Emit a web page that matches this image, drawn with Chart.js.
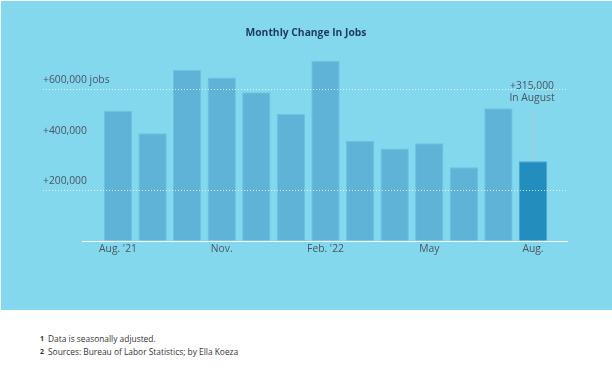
<!DOCTYPE html>
<html>
<head>
<meta charset="utf-8">
<script src="https://cdn.jsdelivr.net/npm/chart.js@4/dist/chart.umd.min.js"></script>
<style>
  html, body { margin: 0; padding: 0; background: #fff; width: 612px; height: 387px; overflow: hidden; }
  #wrap { position: absolute; left: 0; top: 0; width: 612px; height: 310px; }
  .note { position: absolute; left: 40px; font-family: 'Open Sans', sans-serif; font-size: 8.4px; color: #333; white-space: nowrap; }
  .note b { font-size: 7px; position: relative; top: -1px; margin-right: 4px; }
</style>
</head>
<body>
<div id="wrap"><canvas id="jobs-chart" width="612" height="310"></canvas></div>
<div class="note" style="top:333px"><b>1</b>Data is seasonally adjusted.</div>
<div class="note" style="top:346px"><b>2</b>Sources: Bureau of Labor Statistics; by Ella Koeza</div>
<script>
// ---- data ----
const months = ["Aug. '21", 'Sep.', 'Oct.', 'Nov.', 'Dec.', "Jan. '22", "Feb. '22", 'Mar.', 'Apr.', 'May', 'Jun.', 'Jul.', 'Aug.'];
const jobsAdded = [515000, 426000, 676000, 647000, 588000, 502000, 713000, 396000, 366000, 386000, 291000, 525000, 315000];
const shownMonthIdx = [0, 3, 6, 9, 12];
const yTicks = [200000, 400000, 600000];
const yTickLabels = ['+200,000', '+400,000', '+600,000 jobs'];
const gridValues = [200000, 600000];
const calloutLines = ['+315,000', 'In August'];

const FONT = "'Open Sans', sans-serif";
const TEXT = '#4a5560';
const BAR = '#5eb3d7';
const BAR_EDGE = '#6cc2e2';
const BAR_HI = '#238dbd';
const lastIdx = jobsAdded.length - 1;

// background, grid, labels, callout
const decor = {
  id: 'decor',
  beforeDraw(chart) {
    const c = chart.ctx;
    c.save();
    c.fillStyle = '#84d8ee';
    c.fillRect(1, 1, chart.width - 1, chart.height - 1);
    c.restore();
  },
  afterDatasetsDraw(chart) {
    const c = chart.ctx;
    const x = chart.scales.x, y = chart.scales.y;
    c.save();

    // dotted grid lines
    c.strokeStyle = 'rgba(255,255,255,0.75)';
    c.lineWidth = 1;
    c.setLineDash([1, 2]);
    gridValues.forEach(v => {
      const py = Math.round(y.getPixelForValue(v)) + 0.5;
      c.beginPath(); c.moveTo(43, py); c.lineTo(568, py); c.stroke();
    });
    c.setLineDash([]);

    // baseline
    const by = Math.round(y.getPixelForValue(0)) + 0.5;
    c.strokeStyle = '#ffffff';
    c.beginPath(); c.moveTo(82, by); c.lineTo(568, by); c.stroke();

    // y labels
    c.fillStyle = TEXT;
    c.font = '10.3px ' + FONT;
    c.textAlign = 'left';
    c.textBaseline = 'middle';
    yTicks.forEach((v, i) => c.fillText(yTickLabels[i], 43, y.getPixelForValue(v) - 9));

    // x labels
    c.textAlign = 'center';
    shownMonthIdx.forEach(i => c.fillText(months[i], x.getPixelForValue(i), by + 8));

    // title
    c.fillStyle = '#1e3a5c';
    c.font = 'bold 10.3px ' + FONT;
    c.fillText('Monthly Change In Jobs', 306, 33);

    // callout
    const cx = x.getPixelForValue(lastIdx);
    const topY = y.getPixelForValue(jobsAdded[lastIdx]);
    c.strokeStyle = '#b3c6d2';
    c.beginPath(); c.moveTo(Math.round(cx) + 0.5, 110); c.lineTo(Math.round(cx) + 0.5, topY); c.stroke();
    c.fillStyle = TEXT;
    c.font = '10.3px ' + FONT;
    calloutLines.forEach((t, i) => c.fillText(t, cx - 1, 86 + i * 12));

    c.restore();
  }
};

new Chart(document.getElementById('jobs-chart').getContext('2d'), {
  type: 'bar',
  data: {
    labels: months,
    datasets: [{
      data: jobsAdded,
      backgroundColor: jobsAdded.map((_, i) => i === lastIdx ? BAR_HI : BAR),
      borderColor: jobsAdded.map((_, i) => i === lastIdx ? '#4aa6cf' : BAR_EDGE),
      borderWidth: 1,
      borderSkipped: 'bottom',
      categoryPercentage: 1,
      barPercentage: 0.82
    }]
  },
  options: {
    responsive: false,
    animation: false,
    layout: { padding: { left: 100.7, right: 61.7, top: 38.8, bottom: 69.2 } },
    plugins: { legend: { display: false }, tooltip: { enabled: false } },
    scales: {
      x: { display: false },
      y: { display: false, min: 0, max: 800000 }
    }
  },
  plugins: [decor]
});
</script>
</body>
</html>
